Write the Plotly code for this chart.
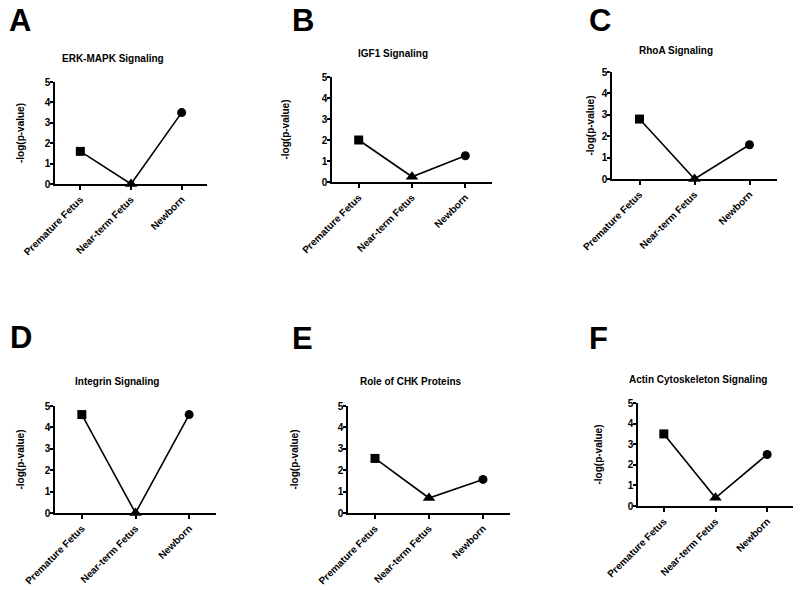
import plotly.graph_objects as go

categories = ["Premature Fetus", "Near-term Fetus", "Newborn"]
panel_letters = ["A", "B", "C", "D", "E", "F"]
panel_titles = ["ERK-MAPK Signaling", "IGF1 Signaling", "RhoA Signaling",
                "Integrin Signaling", "Role of CHK Proteins", "Actin Cytoskeleton Signaling"]
erk_mapk = [1.6, 0.0, 3.5]
igf1 = [2.0, 0.25, 1.25]
rhoa = [2.8, 0.0, 1.6]
integrin = [4.6, 0.0, 4.6]
chk = [2.55, 0.7, 1.57]
actin = [3.5, 0.4, 2.5]
series = [erk_mapk, igf1, rhoa, integrin, chk, actin]
y_ticks = [0, 1, 2, 3, 4, 5]
y_title = "-log(p-value)"

W, H = 800, 590
# pixel boxes in window coords: (x_left, x_right, y_top(value 5), y_bottom(value 0))
boxes = [
    (55, 207, 82, 184),
    (332, 492, 77, 182),
    (612, 777, 72, 179),
    (55, 216, 406, 513),
    (348, 510, 406, 513),
    (638, 793, 403, 506),
]
letter_pos = [(7, 21), (290, 21), (587, 21), (8, 337), (290, 338), (587, 338)]
title_pos = [(113, 59), (393, 53), (676, 51), (117, 381), (411, 381), (698, 380)]
ylabel_x = [20, 285, 590, 20, 294, 598]


def px(x):
    return x / W


def py(y):
    return 1 - y / H


FONT = "Liberation Sans, Arial, sans-serif"
fig = go.Figure()
annotations = []
for i, (vals, box) in enumerate(zip(series, boxes)):
    n = "" if i == 0 else str(i + 1)
    xl, xr, yt, yb = box
    fig.add_trace(go.Scatter(
        x=list(range(len(categories))), y=vals, mode="lines+markers",
        xaxis="x" + n, yaxis="y" + n,
        line=dict(color="black", width=1.6),
        marker=dict(symbol=["square", "triangle-up", "circle"], size=[9, 11, 9],
                    color="black", opacity=1, line=dict(width=0)),
        cliponaxis=False, showlegend=False, hoverinfo="skip",
    ))
    fig.update_layout(**{
        "xaxis" + n: dict(
            domain=[px(xl), px(xr)], range=[-0.5, 2.5], automargin=False,
            tickmode="array", tickvals=list(range(len(categories))), ticktext=categories,
            tickangle=-45, showline=True, linecolor="black", linewidth=1.5,
            ticks="outside", ticklen=4, tickwidth=1.5, tickcolor="black",
            showgrid=False, zeroline=False, anchor="y" + n,
            tickfont=dict(family=FONT, size=10, color="black", weight="bold"),
        ),
        "yaxis" + n: dict(
            domain=[py(yb), py(yt)], range=[0, 5], automargin=False,
            tickmode="array", tickvals=y_ticks, ticklabelstandoff=-2,
            showline=True, linecolor="black", linewidth=1.5,
            ticks="outside", ticklen=3, tickwidth=1.5, tickcolor="black",
            showgrid=False, zeroline=False, anchor="x" + n,
            tickfont=dict(family=FONT, size=10, color="black", weight="bold"),
        ),
    })
    lx, ly = letter_pos[i]
    annotations.append(dict(text=panel_letters[i], x=px(lx), y=py(ly), xref="paper", yref="paper",
                            xanchor="left", yanchor="middle", showarrow=False,
                            font=dict(family=FONT, size=31, color="black", weight="bold")))
    tx, ty = title_pos[i]
    annotations.append(dict(text=panel_titles[i], x=px(tx), y=py(ty), xref="paper", yref="paper",
                            xanchor="center", yanchor="middle", showarrow=False,
                            font=dict(family=FONT, size=10, color="black", weight="bold")))
    annotations.append(dict(text=y_title, x=px(ylabel_x[i]), y=py((yt + yb) / 2),
                            xref="paper", yref="paper", textangle=-90,
                            xanchor="center", yanchor="middle", showarrow=False,
                            font=dict(family=FONT, size=10, color="black", weight="bold")))

fig.update_layout(template="none", width=W, height=H, margin=dict(l=0, r=0, t=0, b=0),
                  paper_bgcolor="white", plot_bgcolor="white", annotations=annotations,
                  hovermode=False)
fig.write_html("out.html", config={"displayModeBar": False},
               post_script="document.body.style.margin='0px';")
